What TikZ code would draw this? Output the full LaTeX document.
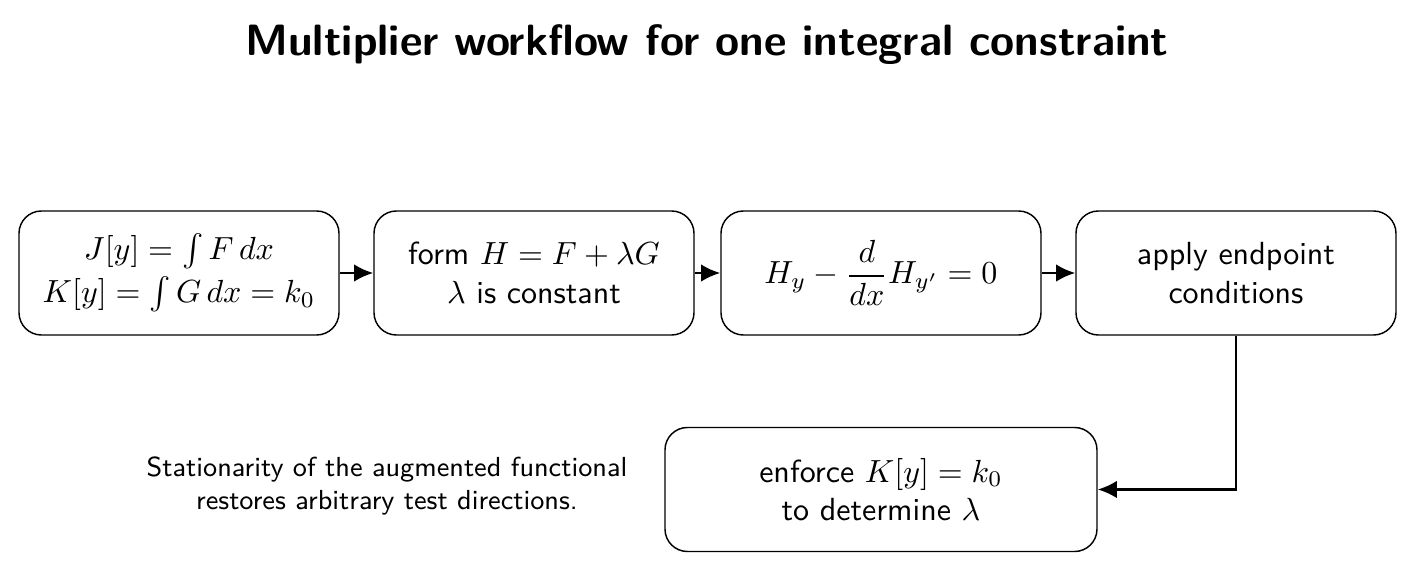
\documentclass[tikz,border=0pt]{standalone}
\usetikzlibrary{arrows.meta,positioning}
\renewcommand{\familydefault}{\sfdefault}
\begin{document}
\begin{tikzpicture}[x=0.3125pt,y=-0.3125pt,
  box/.style={draw,rounded corners=7pt,line width=0.45pt,minimum width=100pt,minimum height=38.75pt,align=center,inner sep=0pt},
  flow/.style={-{Latex[length=6pt,width=5.5pt]},line width=0.8pt},
  note/.style={align=center,font=\fontsize{8.6}{10.2}\selectfont}]
\useasboundingbox (0,0) rectangle (1415,572);
\node[font=\fontsize{13.7}{16}\selectfont\bfseries] (title) at (707,45) {Multiplier workflow for one integral constraint};
\node[box] (b1) at (179,273) {$J[y]=\int F\,dx$\\[1.5pt]$K[y]=\int G\,dx=k_0$};
\node[box] (b2) at (534,273) {form $H=F+\lambda G$\\$\lambda$ is constant};
\node[box] (b3) at (881,273) {$\displaystyle H_y-\frac{d}{dx}H_{y'}=0$};
\node[box] (b4) at (1236,273) {apply endpoint\\conditions};
\node[box,minimum width=135pt] (b5) at (881,489.5) {enforce $K[y]=k_0$\\to determine $\lambda$};
\node[note] (n) at (387,486) {Stationarity of the augmented functional\\restores arbitrary test directions.};
\draw[flow] (b1) -- (b2);
\draw[flow] (b2) -- (b3);
\draw[flow] (b3) -- (b4);
\draw[flow] (b4.south) |- (b5.east);
\end{tikzpicture}
\end{document}
